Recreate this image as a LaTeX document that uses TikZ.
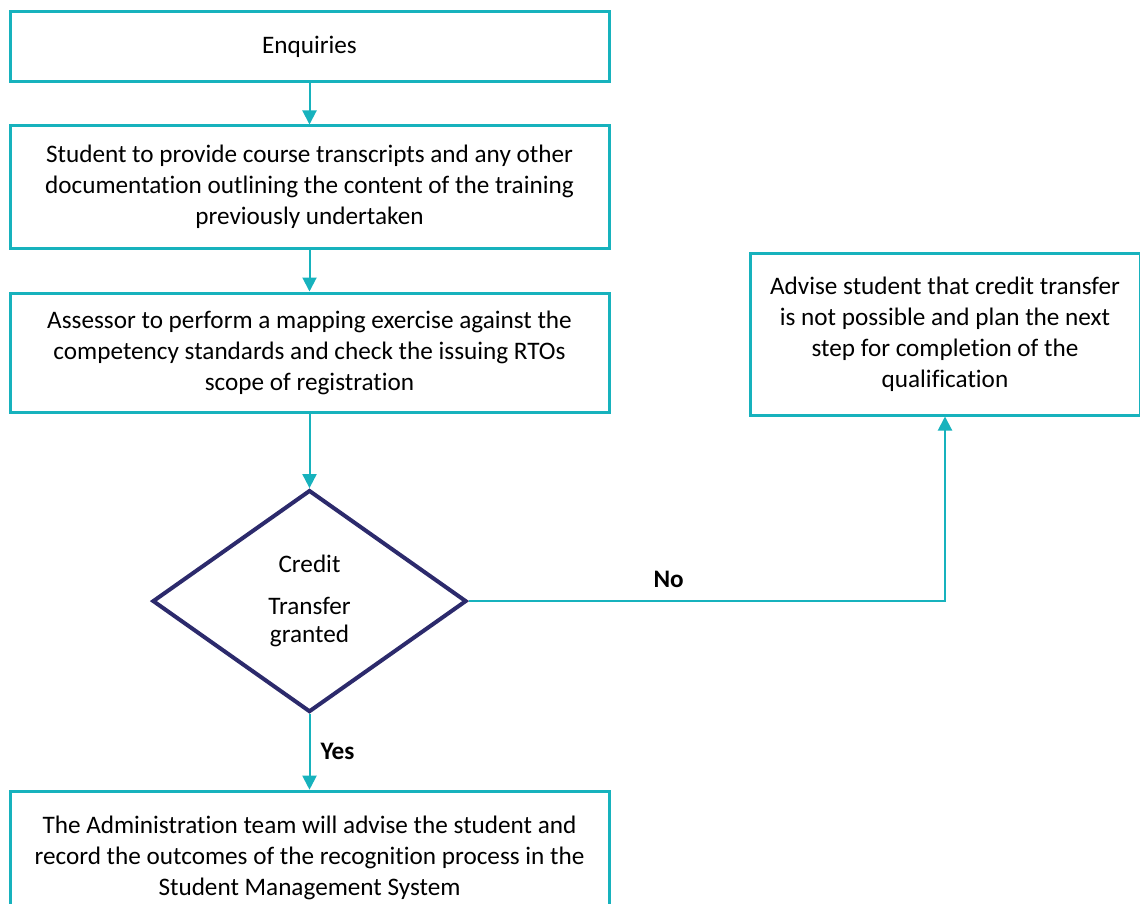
\documentclass[tikz,border=0pt]{standalone}
\usepackage{fontspec}
\setmainfont{Carlito}[Ligatures=NoCommon]
\usetikzlibrary{positioning,arrows.meta,shapes.geometric}
\definecolor{flowteal}{HTML}{17B2BD}
\definecolor{flownavy}{HTML}{2C2A6C}
\tikzstyle{tbox}=[rectangle, draw=flowteal, line width=1.5pt, fill=white,
                  text centered, align=center, inner sep=0pt, minimum width=299.5pt,
                  font=\fontsize{12.6}{15.5}\selectfont]
\tikzstyle{dbox}=[diamond, draw=flownavy, line width=2pt, fill=white, align=center,
                  inner sep=0pt, minimum width=157pt, minimum height=111pt,
                  font=\fontsize{12.6}{14}\selectfont]
\tikzstyle{pline}=[-{Triangle[width=7pt,length=7pt]}, draw=flowteal, line width=1pt]
\tikzstyle{plab}=[font=\fontsize{12.6}{14}\selectfont\bfseries, inner sep=2pt]

\begin{document}
\begin{tikzpicture}[x=0.5pt,y=-0.5pt]
\useasboundingbox (0,0) rectangle (1140,904);

\node (ENQ) [tbox, minimum height=35pt] at (309.5,47) {Enquiries};

\node (DOCS) [tbox, minimum height=61pt, below=20.5pt of ENQ]
 {Student to provide course transcripts and any other\\
  documentation outlining the content of the training\\
  previously undertaken};
 \draw[pline] (ENQ.south) -- (DOCS.north);

\node (MAP) [tbox, minimum height=59.5pt, below=21pt of DOCS]
 {Assessor to perform a mapping exercise against the\\
  competency standards and check the issuing RTOs\\
  scope of registration};
 \draw[pline] (DOCS.south) -- (MAP.north);

\node (CTG) [dbox, below=37.3pt of MAP] {Credit\\[7pt]Transfer\\granted};
 \draw[pline] (MAP.south) -- (CTG.north);

\node (ADMIN) [tbox, minimum height=67pt, below=37.8pt of CTG]
 {The Administration team will advise the student and\\
  record the outcomes of the recognition process in the\\
  Student Management System};
 \draw[pline] (CTG.south) -- node[plab, right=3pt] {Yes} (ADMIN.north);

\node (ADV) [tbox, minimum width=195pt, minimum height=81pt] at (945,334)
 {Advise student that credit transfer\\
  is not possible and plan the next\\
  step for completion of the\\
  qualification};
 \draw[pline] (CTG.east) -| node[plab, above=4pt, pos=0.21] {No} (ADV.south);

\end{tikzpicture}
\end{document}
